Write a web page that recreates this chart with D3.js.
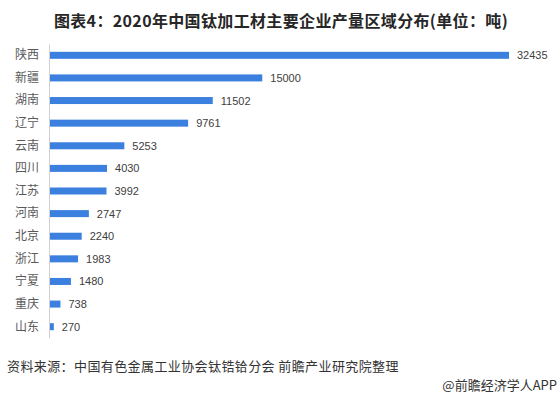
<!DOCTYPE html>
<html>
<head>
<meta charset="utf-8">
<script src="https://cdn.jsdelivr.net/npm/d3@7"></script>
<style>
	body { margin: 0; background: #fff; }
	svg { display: block; }
</style>
</head>
<body>
<div class="canvas"></div>
<script>
// podaci
const regions = ['陕西', '新疆', '湖南', '辽宁', '云南', '四川', '江苏', '河南', '北京', '浙江', '宁夏', '重庆', '山东'];
const output = [32435, 15000, 11502, 9761, 5253, 4030, 3992, 2747, 2240, 1983, 1480, 738, 270];
const title = '图表4：2020年中国钛加工材主要企业产量区域分布(单位：吨)';
const source = '资料来源：中国有色金属工业协会钛锆铪分会 前瞻产业研究院整理';
const brand = '@前瞻经济学人APP';

const data = regions.map((name, i) => ({ name, value: output[i] }));

const width = 559;
const height = 398;
const cjk = '"Noto Sans CJK SC", "Noto Sans", sans-serif';

const svg = d3
	.select('.canvas')
	.append('svg')
	.attr('width', width)
	.attr('height', height);

// margine
const margin = { top: 44, right: 49, bottom: 60, left: 49 };
const diagramWidth = width - margin.left - margin.right;
const diagramHeight = height - margin.top - margin.bottom;

const diagram = svg
	.append('g')
	.attr('transform', `translate(${margin.left}, ${margin.top})`);

const x = d3.scaleLinear()
	.domain([0, d3.max(output)])
	.range([1, diagramWidth - 1]);

const y = d3.scaleBand()
	.domain(regions)
	.range([0, diagramHeight])
	.paddingInner(0.69)
	.paddingOuter(0.345);

// naslov
svg.append('text')
	.attr('x', 281)
	.attr('y', 20)
	.attr('text-anchor', 'middle')
	.attr('dominant-baseline', 'central')
	.attr('font-family', cjk)
	.attr('font-size', 16)
	.attr('letter-spacing', 0.35)
	.attr('font-weight', 'bold')
	.attr('fill', '#262626')
	.text(title);

// stupci
diagram.selectAll('rect')
	.data(data)
	.enter()
	.append('rect')
	.attr('x', x(0))
	.attr('y', d => y(d.name))
	.attr('width', d => x(d.value) - x(0))
	.attr('height', y.bandwidth())
	.attr('fill', '#3c80df');

// vrijednosti
diagram.selectAll('.value')
	.data(data)
	.enter()
	.append('text')
	.attr('class', 'value')
	.attr('x', d => x(d.value) + 8)
	.attr('y', d => y(d.name) + y.bandwidth() / 2)
	.attr('dominant-baseline', 'central')
	.attr('font-family', '"Liberation Sans", Arial, sans-serif')
	.attr('font-size', 11)
	.attr('fill', '#404040')
	.text(d => d.value);

// y os
const yAxis = d3.axisLeft(y).tickSize(0).tickPadding(10);
const yAxisGroup = diagram.append('g').call(yAxis);
yAxisGroup.select('.domain').attr('stroke', '#d0d0d0');
yAxisGroup.selectAll('text')
	.attr('font-family', cjk)
	.attr('font-size', 12)
	.attr('fill', '#595959');

// izvor
svg.append('text')
	.attr('x', 7)
	.attr('y', 365)
	.attr('dominant-baseline', 'central')
	.attr('font-family', cjk)
	.attr('font-size', 13)
	.attr('letter-spacing', 0.4)
	.attr('fill', '#333')
	.text(source);

svg.append('text')
	.attr('x', 557)
	.attr('y', 384)
	.attr('text-anchor', 'end')
	.attr('dominant-baseline', 'central')
	.attr('font-family', cjk)
	.attr('font-size', 13)
	.attr('fill', '#333')
	.text(brand);
</script>
</body>
</html>
